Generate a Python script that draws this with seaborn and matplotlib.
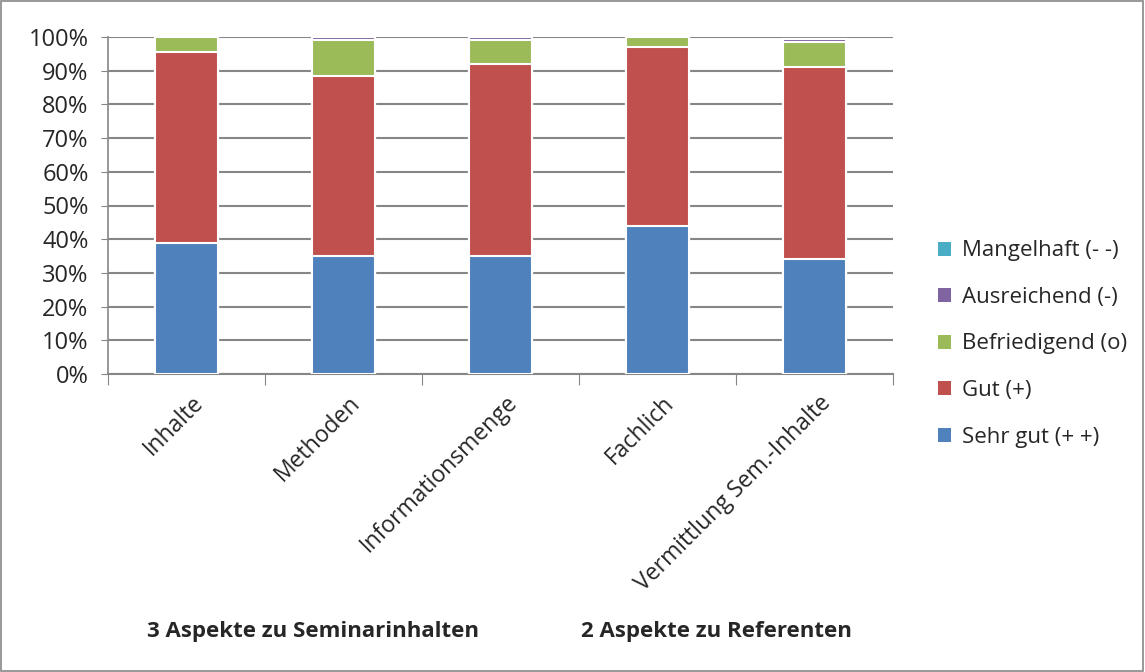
import numpy as np
import pandas as pd
import matplotlib
matplotlib.use("Agg")
import matplotlib.pyplot as plt
import seaborn as sns
from matplotlib.patches import Patch, Rectangle

categories = ["Inhalte", "Methoden", "Informationsmenge", "Fachlich", "Vermittlung Sem.-Inhalte"]
series_names = ["Sehr gut (+ +)", "Gut (+)", "Befriedigend (o)", "Ausreichend (-)", "Mangelhaft (- -)"]
sehr_gut = [39, 35, 35, 44, 34]
gut = [56.5, 53.5, 57, 53, 57]
befriedigend = [4.5, 10.5, 7, 3, 7.5]
ausreichend = [0, 1, 1, 0, 1.0]
mangelhaft = [0, 0, 0, 0, 0]
colors = ["#4F81BD", "#C0504D", "#9BBB59", "#8064A2", "#4BACC6"]
group_labels = ["3 Aspekte zu Seminarinhalten", "2 Aspekte zu Referenten"]

sns.set_style("white")
plt.rcParams['font.family'] = ['Open Sans', 'DejaVu Sans']

fig = plt.figure(figsize=(11.45, 6.72), dpi=100)
ax = fig.add_axes([108/1145, 1-374/672, (893-108)/1145, (374-37)/672])

series = [sehr_gut, gut, befriedigend, ausreichend, mangelhaft]
cum = np.cumsum(np.array(series, dtype=float), axis=0)
for i in range(len(series) - 1, -1, -1):
    df = pd.DataFrame({"cat": categories, "val": cum[i]})
    sns.barplot(data=df, x="cat", y="val", color=colors[i], width=0.4,
                edgecolor="white", linewidth=1.5, saturation=1, ax=ax, zorder=3)

ax.set_ylim(0, 100)
ax.set_xlim(-0.5, len(categories) - 0.5)
ax.set_yticks(np.arange(0, 101, 10))
ax.set_yticklabels([f"{v}%" for v in range(0, 101, 10)], fontsize=17)
ax.yaxis.grid(True, color="#868686", linewidth=1.5, zorder=0)
ax.set_axisbelow(True)
ax.set_xlabel("")
ax.set_ylabel("")
for s in ["top", "right"]:
    ax.spines[s].set_visible(False)
ax.spines["left"].set_color("#868686")
ax.spines["bottom"].set_color("#868686")
ax.spines["left"].set_linewidth(1.2)
ax.spines["bottom"].set_linewidth(1.5)
ax.tick_params(axis="y", left=True, length=5, color="#868686", pad=9)

ax.set_xticks(np.arange(-0.5, len(categories), 1.0))
ax.set_xticklabels([""] * (len(categories) + 1))
ax.tick_params(axis="x", bottom=True, length=8, color="#868686", direction="out")
for i, c in enumerate(categories):
    ax.text(i + 0.03, -5, c, rotation=45, ha="right", va="top", fontsize=16.5,
            rotation_mode="anchor", transform=ax.transData, clip_on=False)

fig.text(313/1145, 1-632/672, group_labels[0], ha="center", va="center", fontsize=16, fontweight="bold")
fig.text(716/1145, 1-632/672, group_labels[1], ha="center", va="center", fontsize=16, fontweight="bold")

handles = [Patch(facecolor=colors[i], edgecolor="none") for i in range(len(series) - 1, -1, -1)]
labels = [series_names[i] for i in range(len(series) - 1, -1, -1)]
fig.legend(handles, labels, loc="center left", bbox_to_anchor=(918/1145, 1-344/672),
           frameon=False, fontsize=16, handlelength=0.6, handleheight=0.6,
           labelspacing=1.15, handletextpad=0.5)

fig.patches.append(Rectangle((0.001, 0.001), 0.997, 0.997, transform=fig.transFigure,
                             fill=False, edgecolor="#868686", linewidth=1.2))

fig.savefig("out.png", dpi=100, facecolor="white")
